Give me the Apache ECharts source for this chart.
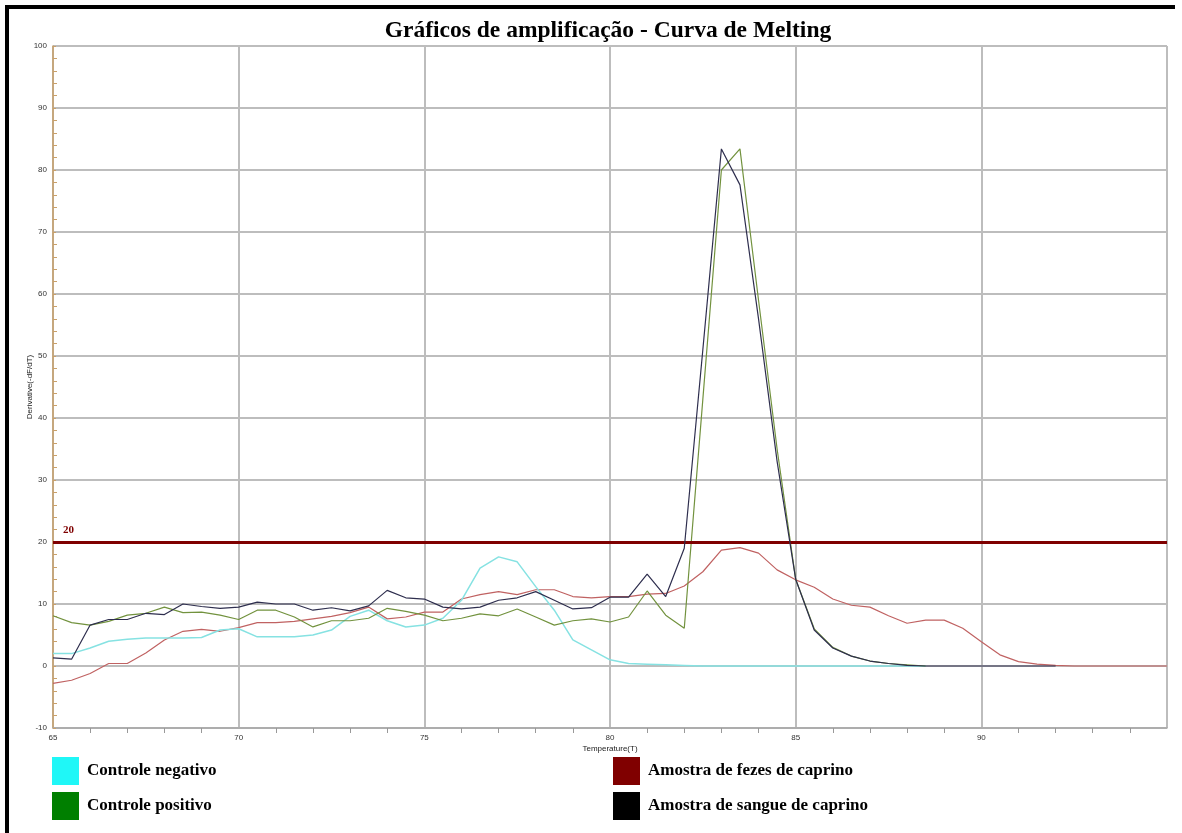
<!DOCTYPE html>
<html>
<head>
<meta charset="utf-8">
<script src="https://cdn.jsdelivr.net/npm/echarts@6/dist/echarts.min.js"></script>
<style>
html,body{margin:0;padding:0;background:#fff;}
#chart{width:1182px;height:833px;}
</style>
</head>
<body>
<div id="chart"></div>
<script>
// ---- data ----
var temperatures = [65,65.5,66,66.5,67,67.5,68,68.5,69,69.5,70,70.5,71,71.5,72,72.5,73,73.5,74,74.5,75,75.5,76,76.5,77,77.5,78,78.5,79,79.5,80,80.5,81,81.5,82,82.5,83,83.5,84,84.5,85,85.5,86,86.5,87,87.5,88,88.5,89,89.5,90,90.5,91,91.5,92,92.5,93,93.5,94,94.5,95];

var controleNegativo = [2.0,2.0,2.9,4.0,4.3,4.5,4.5,4.5,4.6,5.8,6.0,4.7,4.7,4.7,5.0,5.8,8.0,9.0,7.3,6.3,6.6,7.7,10.6,15.8,17.6,16.8,12.8,9.0,4.2,2.6,1.0,0.4,0.3,0.2,0.1,0,0,0,0,0,0,0,0,0,0,0,0,0];

var controlePositivo = [8.1,7.0,6.6,7.2,8.2,8.5,9.5,8.6,8.7,8.2,7.5,9.0,9.0,7.9,6.3,7.3,7.3,7.7,9.3,8.8,8.2,7.3,7.7,8.4,8.1,9.2,7.9,6.6,7.3,7.6,7.1,7.9,12.1,8.2,6.1,43,80,83.4,59,35,14,6,3,1.6,0.8,0.4,0.2,0];

var fezesCaprino = [-2.8,-2.3,-1.2,0.4,0.4,2.1,4.2,5.6,5.9,5.6,6.2,7.0,7.0,7.2,7.6,8.0,8.6,9.5,7.6,7.9,8.7,8.7,10.8,11.5,12.0,11.5,12.3,12.3,11.2,11.0,11.2,11.2,11.6,11.7,12.9,15.2,18.7,19.1,18.2,15.5,13.9,12.7,10.8,9.8,9.5,8.1,6.9,7.4,7.4,6.1,3.9,1.8,0.7,0.3,0.1,0,0,0,0,0,0];

var sangueCaprino = [1.3,1.1,6.6,7.5,7.5,8.5,8.3,10.0,9.6,9.3,9.5,10.3,10.0,10.0,9.0,9.4,8.9,9.7,12.2,11.0,10.8,9.5,9.2,9.5,10.6,11.0,12.0,10.6,9.2,9.4,11.1,11.1,14.8,11.2,19.0,51,83.4,77.6,56,33,14,5.8,2.9,1.6,0.8,0.4,0.1,0,0,0,0,0,0,0,0];

var thresholdValue = 20;
var yTicks = [-10,0,10,20,30,40,50,60,70,80,90,100];
var xTicks = [65,70,75,80,85,90];

function pairs(vals){ return vals.map(function(v,i){ return [temperatures[i], v]; }); }

var chart = echarts.init(document.getElementById('chart'));
var legendText = {fontFamily:'Liberation Serif', fontWeight:'bold', fontSize:17, color:'#000', padding:[0,0,0,3]};
var option = {
  backgroundColor:'#fff',
  animation:false,
  title:{
    text:'Gráficos de amplificação - Curva de Melting',
    left:603, textAlign:'center', top:14,
    textStyle:{fontFamily:'Liberation Serif', fontWeight:'bold', fontSize:23.5, color:'#000'}
  },
  graphic:[
    {type:'rect', shape:{x:5,y:5,width:1170,height:4}, style:{fill:'#000'}},
    {type:'rect', shape:{x:5,y:5,width:4,height:828}, style:{fill:'#000'}}
  ],
  legend:[
    {data:[{name:'Controle negativo', itemStyle:{color:'#1ff7f7'}},{name:'Controle positivo', itemStyle:{color:'#007f00'}}],
     orient:'vertical', left:52, top:757, padding:0, itemWidth:27, itemHeight:28, itemGap:7, icon:'rect', textStyle:legendText, selectedMode:false},
    {data:[{name:'Amostra de fezes de caprino', itemStyle:{color:'#800000'}},{name:'Amostra de sangue de caprino', itemStyle:{color:'#000000'}}],
     orient:'vertical', left:613, top:757, padding:0, itemWidth:27, itemHeight:28, itemGap:7, icon:'rect', textStyle:legendText, selectedMode:false}
  ],
  grid:{left:53, right:15, top:46, bottom:105, containLabel:false},
  xAxis:{
    type:'value', min:65, max:95, interval:5,
    name:'Temperature(T)', nameLocation:'middle', nameGap:17, nameMoveOverlap:false,
    nameTextStyle:{fontFamily:'Liberation Sans', fontSize:8, color:'#222'},
    axisLine:{show:true, onZero:false, lineStyle:{color:'#a8a8a8', width:1.5}},
    axisTick:{show:false},
    minorTick:{show:true, splitNumber:5, length:5, lineStyle:{color:'#999'}},
    axisLabel:{fontFamily:'Liberation Sans', fontSize:8, color:'#333', margin:6,
      formatter:function(v){ return xTicks.indexOf(v) >= 0 ? String(v) : ''; }},
    splitLine:{show:true, lineStyle:{color:'#bdbdbd', width:2}}
  },
  yAxis:{
    type:'value', min:-10, max:100, interval:10,
    name:'Derivative(-dF/dT)', nameLocation:'middle', nameGap:19, nameMoveOverlap:false,
    nameTextStyle:{fontFamily:'Liberation Sans', fontSize:8, color:'#222'},
    axisLine:{show:true, lineStyle:{color:'#c9a06a', width:1.5}},
    axisTick:{show:true, inside:true, length:3, lineStyle:{color:'#c9a06a'}},
    minorTick:{show:true, splitNumber:5, length:4, lineStyle:{color:'#c9a06a'}},
    axisLabel:{fontFamily:'Liberation Sans', fontSize:8, color:'#333', margin:6,
      formatter:function(v){ return yTicks.indexOf(v) >= 0 ? String(v) : ''; }},
    splitLine:{show:true, lineStyle:{color:'#bdbdbd', width:2}}
  },
  series:[
    {name:'Amostra de fezes de caprino', type:'line', data:pairs(fezesCaprino), showSymbol:false, symbol:'none',
     lineStyle:{color:'#c06262', width:1.2}, itemStyle:{color:'#c06262'}, z:2,
     markLine:{silent:true, symbol:'none', animation:false,
       lineStyle:{color:'#7f0000', width:3, type:'solid'},
       label:{show:true, formatter:String(thresholdValue), position:'insideStartTop', distance:[10,6],
         color:'#7f0000', fontFamily:'Liberation Serif', fontWeight:'bold', fontSize:11},
       data:[{yAxis:thresholdValue}]}},
    {name:'Controle negativo', type:'line', data:pairs(controleNegativo), showSymbol:false, symbol:'none',
     lineStyle:{color:'#86e2e2', width:1.5}, itemStyle:{color:'#86e2e2'}, z:3},
    {name:'Controle positivo', type:'line', data:pairs(controlePositivo), showSymbol:false, symbol:'none',
     lineStyle:{color:'#72923e', width:1.2}, itemStyle:{color:'#72923e'}, z:4},
    {name:'Amostra de sangue de caprino', type:'line', data:pairs(sangueCaprino), showSymbol:false, symbol:'none',
     lineStyle:{color:'#2e2e4e', width:1.2}, itemStyle:{color:'#2e2e4e'}, z:5}
  ]
};
chart.setOption(option);
</script>
</body>
</html>
